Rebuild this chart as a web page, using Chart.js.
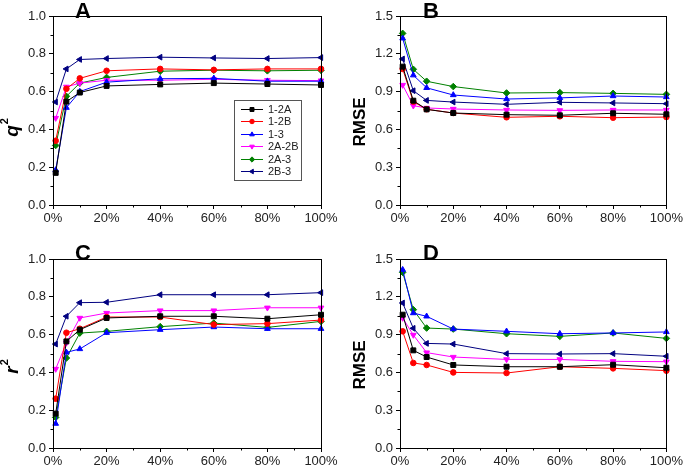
<!DOCTYPE html>
<html>
<head>
<meta charset="utf-8">
<script src="https://cdn.jsdelivr.net/npm/chart.js@4.4.1/dist/chart.umd.min.js"></script>
<style>
  body { margin: 0; background: #fff; }
  #wrap { position: relative; width: 685px; height: 465px; }
  canvas { position: absolute; }
</style>
</head>
<body>
<div id="wrap">
  <canvas id="cA" style="left:0;top:0"></canvas>
  <canvas id="cB" style="left:345px;top:0"></canvas>
  <canvas id="cC" style="left:0;top:232px"></canvas>
  <canvas id="cD" style="left:345px;top:232px"></canvas>
</div>
<script>
// training set size (%)
const xVals = [1, 5, 10, 20, 40, 60, 80, 100];
const seriesNames = ['1-2A', '1-2B', '1-3', '2A-2B', '2A-3', '2B-3'];

// A: q2
const q2_12A  = [0.170, 0.547, 0.595, 0.630, 0.638, 0.645, 0.640, 0.635];
const q2_12B  = [0.340, 0.615, 0.670, 0.710, 0.720, 0.715, 0.720, 0.720];
const q2_13   = [0.185, 0.515, 0.600, 0.650, 0.668, 0.670, 0.655, 0.655];
const q2_2A2B = [0.460, 0.625, 0.645, 0.660, 0.660, 0.665, 0.660, 0.658];
const q2_2A3  = [0.315, 0.575, 0.645, 0.675, 0.708, 0.713, 0.710, 0.713];
const q2_2B3  = [0.545, 0.720, 0.770, 0.775, 0.782, 0.778, 0.775, 0.780];

// B: RMSE (cross validation)
const rmseB_12A  = [1.098, 0.828, 0.759, 0.730, 0.717, 0.712, 0.728, 0.720];
const rmseB_12B  = [1.080, 0.820, 0.760, 0.730, 0.696, 0.704, 0.693, 0.698];
const rmseB_13   = [1.323, 1.030, 0.930, 0.873, 0.841, 0.850, 0.865, 0.857];
const rmseB_2A2B = [0.952, 0.788, 0.770, 0.762, 0.754, 0.751, 0.754, 0.754];
const rmseB_2A3  = [1.362, 1.077, 0.982, 0.940, 0.889, 0.892, 0.886, 0.878];
const rmseB_2B3  = [1.159, 0.907, 0.830, 0.817, 0.799, 0.815, 0.810, 0.804];

// C: r2
const r2_12A  = [0.182, 0.564, 0.626, 0.688, 0.697, 0.697, 0.684, 0.705];
const r2_12B  = [0.261, 0.610, 0.631, 0.693, 0.693, 0.653, 0.658, 0.677];
const r2_13   = [0.129, 0.506, 0.524, 0.610, 0.626, 0.640, 0.631, 0.631];
const r2_2A2B = [0.418, 0.556, 0.688, 0.714, 0.727, 0.727, 0.742, 0.742];
const r2_2A3  = [0.162, 0.476, 0.608, 0.617, 0.642, 0.661, 0.638, 0.670];
const r2_2B3  = [0.550, 0.697, 0.769, 0.771, 0.811, 0.811, 0.811, 0.822];

// D: RMSE (test set)
const rmseD_12A  = [1.058, 0.775, 0.722, 0.659, 0.645, 0.645, 0.661, 0.637];
const rmseD_12B  = [0.926, 0.675, 0.659, 0.600, 0.595, 0.645, 0.632, 0.614];
const rmseD_13   = [1.415, 1.071, 1.045, 0.944, 0.926, 0.907, 0.913, 0.921];
const rmseD_2A2B = [1.032, 0.897, 0.757, 0.722, 0.703, 0.703, 0.688, 0.685];
const rmseD_2A3  = [1.394, 1.098, 0.952, 0.944, 0.907, 0.886, 0.913, 0.870];
const rmseD_2B3  = [1.151, 0.950, 0.830, 0.825, 0.749, 0.746, 0.749, 0.728];

const colors = ['#000000', '#ff0000', '#0000ff', '#ff00ff', '#008000', '#000080'];
const markers = [
  { style: 'rect', rot: 0, r: 3.5 },
  { style: 'circle', rot: 0, r: 2.8 },
  { style: 'triangle', rot: 0, r: 3.3 },
  { style: 'triangle', rot: 180, r: 3.3 },
  { style: 'rectRot', rot: 0, r: 3.3 },
  { style: 'triangle', rot: -90, r: 3.3 }
];

const FONT = '"Liberation Sans", Arial, sans-serif';

function makeDatasets(arrs) {
  return arrs.map((arr, i) => ({
    label: seriesNames[i],
    data: xVals.map((x, j) => ({ x: x, y: arr[j] })),
    borderColor: colors[i],
    backgroundColor: colors[i],
    borderWidth: 1,
    pointStyle: markers[i].style,
    pointRotation: markers[i].rot,
    pointRadius: markers[i].r,
    pointBorderWidth: 1,
    clip: false
  }));
}

// box, minor ticks, panel letter, axis title
const decor = {
  id: 'decor',
  afterDraw(chart) {
    const o = chart.options.plugins.decor;
    const ctx = chart.ctx;
    const a = chart.chartArea;
    const xs = chart.scales.x, ys = chart.scales.y;
    ctx.save();
    ctx.strokeStyle = '#000';
    ctx.lineWidth = 1;
    ctx.strokeRect(Math.round(a.left) + 0.5, Math.round(a.top) + 0.5,
      Math.round(a.right - a.left), Math.round(a.bottom - a.top));
    ctx.beginPath();
    for (let v = 10; v < 100; v += 20) {
      const px = Math.round(xs.getPixelForValue(v)) + 0.5;
      ctx.moveTo(px, a.bottom); ctx.lineTo(px, a.bottom + 2.5);
    }
    for (let k = 1; k < 10; k += 2) {
      const py = Math.round(ys.getPixelForValue(k * o.minorStep)) + 0.5;
      ctx.moveTo(a.left, py); ctx.lineTo(a.left - 2.5, py);
    }
    ctx.stroke();

    ctx.fillStyle = '#000';
    ctx.font = 'bold 22px ' + FONT;
    ctx.textAlign = 'left';
    ctx.textBaseline = 'alphabetic';
    ctx.fillText(o.letter, o.lx, o.ly);

    ctx.translate(o.tx, o.ty);
    ctx.rotate(-Math.PI / 2);
    ctx.textBaseline = 'middle';
    if (o.sup) {
      ctx.font = 'bold italic 19px ' + FONT;
      const w1 = ctx.measureText(o.title).width;
      ctx.font = 'bold 11px ' + FONT;
      const w2 = ctx.measureText(o.sup).width;
      ctx.font = 'bold italic 19px ' + FONT;
      ctx.fillText(o.title, -(w1 + w2) / 2, 0);
      ctx.font = 'bold 11px ' + FONT;
      ctx.fillText(o.sup, -(w1 + w2) / 2 + w1 + 1, -8);
    } else {
      ctx.font = 'bold 17px ' + FONT;
      ctx.textAlign = 'center';
      ctx.fillText(o.title, 0, 0);
    }
    ctx.restore();
  }
};

// legend inside panel A
const boxLegend = {
  id: 'boxLegend',
  afterDraw(chart) {
    const o = chart.options.plugins.boxLegend;
    if (!o || !o.show) return;
    const ctx = chart.ctx;
    ctx.save();
    ctx.strokeStyle = '#555';
    ctx.lineWidth = 1;
    ctx.strokeRect(o.x + 0.5, o.y + 0.5, o.w, o.h);
    ctx.font = '11px ' + FONT;
    ctx.textBaseline = 'middle';
    ctx.textAlign = 'left';
    chart.data.datasets.forEach((ds, i) => {
      const cy = Math.round(o.y + 9 + i * 12.4);
      ctx.strokeStyle = ds.borderColor;
      ctx.beginPath();
      ctx.moveTo(o.x + 7, cy + 0.5); ctx.lineTo(o.x + 29, cy + 0.5);
      ctx.stroke();
      ctx.fillStyle = ds.backgroundColor;
      Chart.helpers.drawPoint(ctx, {
        pointStyle: ds.pointStyle, rotation: ds.pointRotation,
        radius: ds.pointRadius * 0.8, borderWidth: 1
      }, o.x + 18, cy + 0.5);
      ctx.fillStyle = '#222';
      ctx.fillText(ds.label, o.x + 34, cy + 1);
    });
    ctx.restore();
  }
};

function makeChart(id, w, h, area, arrs, yMax, yStep, deco, legend) {
  const cv = document.getElementById(id);
  cv.width = w; cv.height = h;
  cv.style.width = w + 'px'; cv.style.height = h + 'px';
  return new Chart(cv, {
    type: 'line',
    data: { datasets: makeDatasets(arrs) },
    options: {
      responsive: false,
      animation: false,
      layout: { padding: { left: 0, right: w - area.right, top: area.top, bottom: 0 } },
      plugins: {
        legend: { display: false },
        tooltip: { enabled: false },
        decor: deco,
        boxLegend: legend || { show: false }
      },
      scales: {
        x: {
          type: 'linear', min: 0, max: 100,
          afterFit(s) { s.height = h - area.bottom; },
          border: { display: true, color: '#000', width: 1 },
          grid: { display: true, drawOnChartArea: false, drawTicks: true, tickLength: 4, color: '#000' },
          ticks: {
            stepSize: 20, color: '#222', padding: 2, maxRotation: 0,
            font: { family: FONT, size: 13 },
            callback: v => v + '%'
          }
        },
        y: {
          type: 'linear', min: 0, max: yMax,
          afterFit(s) { s.width = area.left; },
          border: { display: true, color: '#000', width: 1 },
          grid: { display: true, drawOnChartArea: false, drawTicks: true, tickLength: 4, color: '#000' },
          ticks: {
            stepSize: yStep, color: '#222', padding: 3,
            font: { family: FONT, size: 13 },
            callback: v => v.toFixed(1)
          }
        }
      }
    },
    plugins: [decor, boxLegend]
  });
}

makeChart('cA', 345, 232, { left: 53, right: 321, top: 16, bottom: 205 },
  [q2_12A, q2_12B, q2_13, q2_2A2B, q2_2A3, q2_2B3], 1.0, 0.2,
  { letter: 'A', lx: 75, ly: 18, title: 'q', sup: '2', tx: 13, ty: 128, minorStep: 0.1 },
  { show: true, x: 234, y: 100, w: 67, h: 80 });

makeChart('cB', 340, 232, { left: 55, right: 325, top: 16, bottom: 205 },
  [rmseB_12A, rmseB_12B, rmseB_13, rmseB_2A2B, rmseB_2A3, rmseB_2B3], 1.5, 0.3,
  { letter: 'B', lx: 78, ly: 18, title: 'RMSE', tx: 15, ty: 122, minorStep: 0.15 });

makeChart('cC', 345, 233, { left: 53, right: 321, top: 27, bottom: 216 },
  [r2_12A, r2_12B, r2_13, r2_2A2B, r2_2A3, r2_2B3], 1.0, 0.2,
  { letter: 'C', lx: 75, ly: 28, title: 'r', sup: '2', tx: 13, ty: 135, minorStep: 0.1 });

makeChart('cD', 340, 233, { left: 55, right: 325, top: 27, bottom: 216 },
  [rmseD_12A, rmseD_12B, rmseD_13, rmseD_2A2B, rmseD_2A3, rmseD_2B3], 1.5, 0.3,
  { letter: 'D', lx: 78, ly: 28, title: 'RMSE', tx: 15, ty: 133, minorStep: 0.15 });
</script>
</body>
</html>
